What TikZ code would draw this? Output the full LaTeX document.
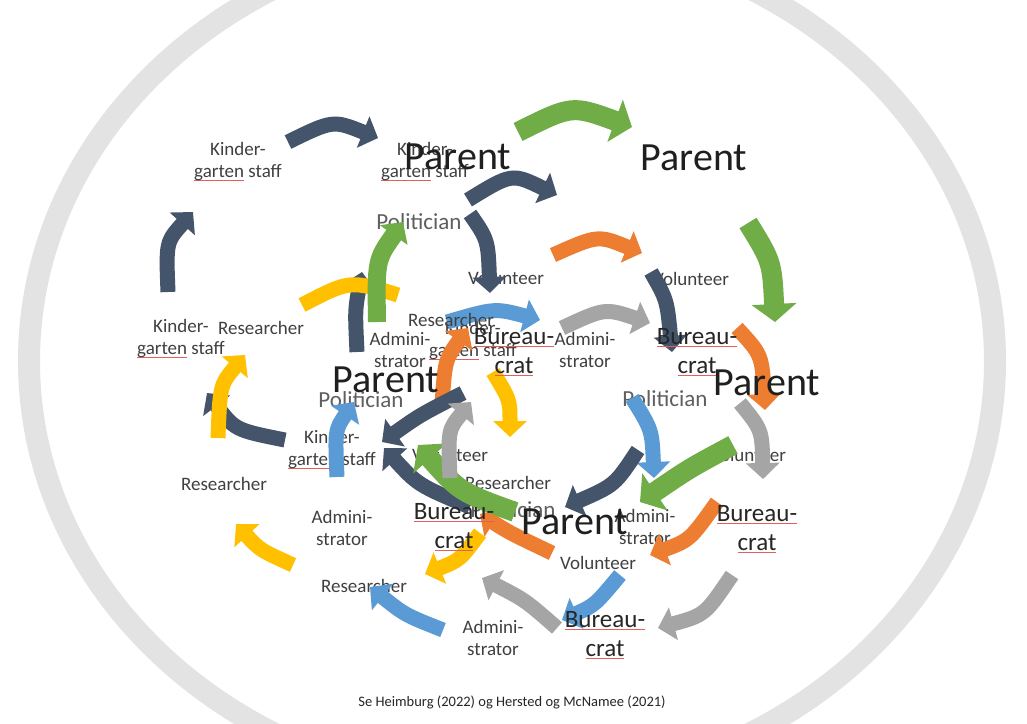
\documentclass[tikz,border=0pt]{standalone}
\usepackage{fontspec}
\setmainfont{Carlito}
\usetikzlibrary{arrows.meta}
\definecolor{cnavy}{HTML}{44546A}
\definecolor{cgreen}{HTML}{70AD47}
\definecolor{corange}{HTML}{ED7D31}
\definecolor{cgray}{HTML}{A5A5A5}
\definecolor{cyellow}{HTML}{FFC000}
\definecolor{cblue}{HTML}{5B9BD5}
\definecolor{ring}{HTML}{E3E3E3}
\definecolor{sqred}{HTML}{E06060}
\definecolor{txt}{HTML}{404040}
\definecolor{poltxt}{HTML}{5F5F5F}
\newsavebox\sqbox
\newcommand\sqw[1]{\sbox\sqbox{#1}\rlap{\textcolor{sqred}{\rule[-3pt]{\wd\sqbox}{0.8pt}}}\usebox\sqbox}
\tikzset{
  ar/.style={line width=15pt,-{Triangle[length=16pt,width=33pt]}},
  arw/.style={line width=20pt,-{Triangle[length=18pt,width=44pt]}},
  band/.style={line width=15pt},
  sm/.style={font=\fontsize{19}{22}\selectfont, text=txt, align=center, inner sep=0pt},
  pol/.style={font=\fontsize{23}{26}\selectfont, text=poltxt, inner sep=0pt},
  bur/.style={font=\fontsize{25}{29}\selectfont, text=black!85, align=center, inner sep=0pt},
  par/.style={font=\fontsize{40}{44}\selectfont, text=black!88, inner sep=0pt},
  captext/.style={font=\fontsize{14.5}{16}\selectfont, text=black!85, inner sep=0pt}
}
\begin{document}
\begin{tikzpicture}[x=1pt,y=-1pt]
\useasboundingbox (0,0) rectangle (1027,723);
\fill[white] (0,0) rectangle (1027,723);
\begin{scope}
\clip (0,0) rectangle (1027,723);
\draw[ring, line width=22pt] (512,361) ellipse [x radius=483, y radius=428];
\end{scope}

% labels below the arrows
\node[sm] (kgA) at (425,162) {Kinder-\\\sqw{garten} staff};
\node[pol] (polA) at (419,222) {Politician};
\node[sm] (volA) at (506,278) {Volunteer};
\node[sm] (volB) at (691,279) {Volunteer};
\node[sm] (admA) at (585,350) {Admini-\\strator};
\node[sm] (kgB) at (473,341) {Kinder-\\\sqw{garten} staff};
\node[pol] (polB) at (665,399) {Politician};
\node[pol] (polC) at (361,400) {Politician};
\node[sm] (kgC) at (332,450) {Kinder-\\\sqw{garten} staff};
\node[sm] (volC) at (450,455) {Volunteer};
\node[sm] (resC) at (508,483) {Researcher};
\node[pol] (polD) at (513,510) {Politician};
\node[sm] (admC) at (645,527) {Admini-\\strator};
\node[sm] (volD) at (748,455) {Volunteer};
\node[sm] (resE) at (364,586) {Researcher};

% arrows
\draw[ar, cnavy] (357,352) .. controls (355,310) .. (362,272);
\draw[band, cyellow] (302,305) .. controls (350,280) .. (398,295);
\draw[ar, cgreen, line width=18pt] (377,322) .. controls (376,260) .. (403,222);
\draw[ar, cnavy] (288,142) .. controls (333,120) .. (378,138);
\draw[ar, cnavy] (168,292) .. controls (166,242) .. (193,212);
\draw[ar, cnavy] (468,200) .. controls (512,173) .. (557,195);
\draw[ar, cnavy] (470,214) .. controls (488,240) .. (490,293);
\draw[ar, cnavy] (651,272) .. controls (667,300) .. (672,352);
\draw[arw, cgreen] (518,132) .. controls (572,105) .. (632,127);
\draw[arw, cgreen] (748,223) .. controls (772,262) .. (775,322);
\draw[ar, corange] (553,255) .. controls (598,235) .. (642,253);
\draw[ar, corange] (737,328) .. controls (762,355) .. (765,410);
\draw[ar, cblue] (447,322) .. controls (495,308) .. (540,320);
\draw[ar, corange] (442,405) .. controls (445,360) .. (468,328);
\draw[ar, cgray] (562,328) .. controls (605,308) .. (650,323);
\draw[ar, cyellow] (493,372) .. controls (510,400) .. (510,437);
\draw[ar, cnavy] (285,440) .. controls (235,430) .. (207,393);
\draw[ar, cyellow] (218,438) .. controls (220,385) .. (245,355);
\draw[ar, cblue] (337,477) .. controls (335,430) .. (354,402);
\draw[ar, cnavy] (463,393) .. controls (420,415) .. (382,442);
\draw[ar, corange] (552,553) .. controls (510,533) .. (480,514);
\draw[ar, cnavy] (470,507) .. controls (418,485) .. (384,448);
\draw[arw, cgreen] (515,512) .. controls (460,492) .. (418,445);
\draw[ar, cgray] (450,478) .. controls (448,430) .. (471,402);
\draw[ar, cyellow] (293,565) .. controls (260,550) .. (236,524);
\draw[ar, cyellow] (480,533) .. controls (460,560) .. (425,574);
\draw[ar, cblue] (443,630) .. controls (405,615) .. (370,587);
\draw[ar, cblue] (632,398) .. controls (652,430) .. (654,478);
\draw[ar, cnavy] (638,450) .. controls (615,485) .. (565,507);
\draw[ar, cgray] (740,403) .. controls (762,430) .. (763,479);
\draw[arw, cgreen] (733,445) .. controls (690,468) .. (640,502);
\draw[ar, corange] (717,502) .. controls (690,540) .. (650,555);
\draw[ar, cblue] (620,575) .. controls (595,605) .. (562,620);
\draw[ar, cgray] (557,628) .. controls (525,600) .. (482,578);
\draw[ar, cgray] (732,575) .. controls (705,615) .. (658,628);

% labels above the arrows
\node[sm] (kgT) at (238,162) {Kinder-\\\sqw{garten} staff};
\node[sm] (kgL) at (181,339) {Kinder-\\\sqw{garten} staff};
\node[sm] (resL) at (261,328) {Researcher};
\node[sm] (admL) at (400,350) {Admini-\\strator};
\node[sm] (resB) at (451,320) {Researcher};
\node[sm] (resW) at (224,484) {Researcher};
\node[sm] (admW) at (342,528) {Admini-\\strator};
\node[sm] (volE) at (598,563) {Volunteer};
\node[sm] (admS) at (493,638) {Admini-\\strator};
\node[bur] (buA) at (514,352) {\sqw{Bureau-}\\\sqw{crat}};
\node[bur] (buB) at (697,352) {\sqw{Bureau-}\\\sqw{crat}};
\node[bur] (buC) at (454,527) {\sqw{Bureau-}\\\sqw{crat}};
\node[bur] (buD) at (757,529) {\sqw{Bureau-}\\\sqw{crat}};
\node[bur] (buE) at (605,635) {\sqw{Bureau-}\\\sqw{crat}};
\node[par] (parA) at (458,157) {Parent};
\node[par] (parB) at (694,158) {Parent};
\node[par] (parC) at (386,380) {Parent};
\node[par] (parD) at (767,383) {Parent};
\node[par] (parE) at (575,522) {Parent};
\node[captext] (cap) at (512,702) {Se Heimburg (2022) og Hersted og McNamee (2021)};
\end{tikzpicture}
\end{document}
